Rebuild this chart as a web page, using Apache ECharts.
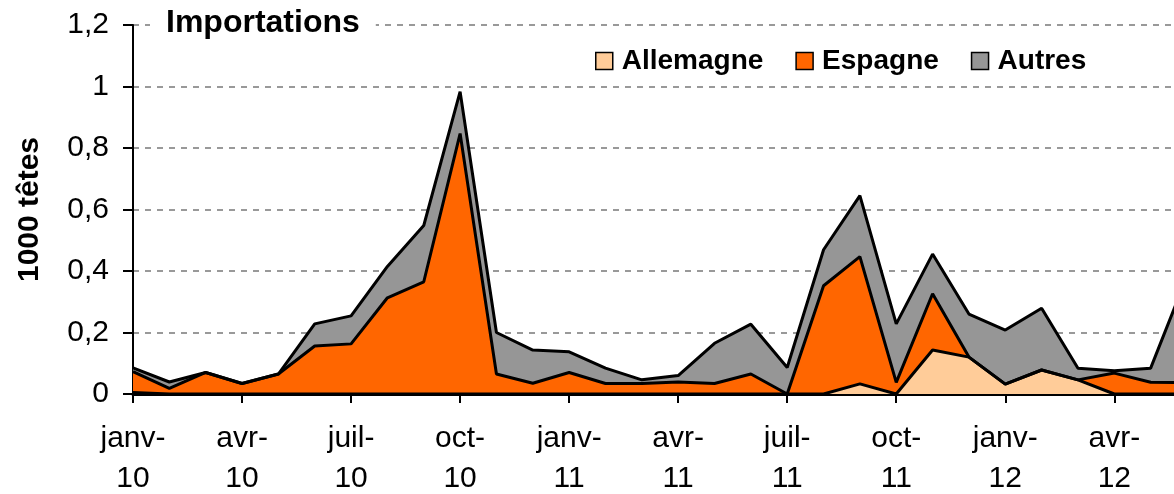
<!DOCTYPE html>
<html>
<head>
<meta charset="utf-8">
<script src="https://cdn.jsdelivr.net/npm/echarts@6/dist/echarts.min.js"></script>
<style>
  html, body { margin: 0; padding: 0; background: #fff; }
  #chart { width: 1174px; height: 494px; }
</style>
</head>
<body>
<div id="chart"></div>
<script>
// mois janv-10 .. juin-12
var months = ['janv-10', 'févr-10', 'mars-10', 'avr-10', 'mai-10', 'juin-10',
    'juil-10', 'août-10', 'sept-10', 'oct-10', 'nov-10', 'déc-10',
    'janv-11', 'févr-11', 'mars-11', 'avr-11', 'mai-11', 'juin-11',
    'juil-11', 'août-11', 'sept-11', 'oct-11', 'nov-11', 'déc-11',
    'janv-12', 'févr-12', 'mars-12', 'avr-12', 'mai-12', 'juin-12'];

var allemagne = [0.005, 0, 0, 0, 0, 0, 0, 0, 0, 0, 0, 0,
    0, 0, 0, 0, 0, 0, 0, 0, 0.033, 0, 0.143, 0.12,
    0.032, 0.078, 0.046, 0, 0, 0];
var espagne = [0.068, 0.018, 0.07, 0.034, 0.065, 0.156, 0.163, 0.313, 0.365, 0.847, 0.065, 0.035,
    0.07, 0.034, 0.034, 0.039, 0.034, 0.065, 0, 0.352, 0.414, 0.038, 0.183, 0,
    0, 0, 0, 0.068, 0.038, 0.037];
var autres = [0.012, 0.021, 0, 0, 0, 0.072, 0.091, 0.102, 0.183, 0.136, 0.135, 0.108,
    0.067, 0.05, 0.012, 0.021, 0.131, 0.162, 0.086, 0.117, 0.198, 0.19, 0.129, 0.14,
    0.176, 0.201, 0.038, 0.008, 0.046, 0.346];

var colors = {Allemagne: '#FFCC99', Espagne: '#FF6600', Autres: '#969696'};
var font = 'Arial, "Liberation Sans", sans-serif';

var chart = echarts.init(document.getElementById('chart'));

function areaSeries(name, values) {
    return {
        name: name,
        type: 'line',
        stack: 'total',
        data: values,
        symbol: 'none',
        lineStyle: {color: '#000', width: 3},
        itemStyle: {color: colors[name]},
        areaStyle: {color: colors[name], opacity: 1}
    };
}

// x labels split over two rows: "janv-" then "10"
function monthAxis(part, margin, showLine) {
    return {
        type: 'category',
        data: months,
        boundaryGap: false,
        position: 'bottom',
        axisLine: {show: showLine, lineStyle: {color: '#000', width: 3}},
        axisTick: {show: showLine, interval: 2, length: 9, lineStyle: {color: '#000', width: 2}},
        axisLabel: {
            interval: 2,
            margin: margin,
            color: '#000',
            fontFamily: font,
            fontSize: 30,
            formatter: function (v) {
                var p = v.split('-');
                return part === 0 ? p[0] + '-' : p[1];
            }
        },
        splitLine: {show: false}
    };
}

chart.setOption({
    animation: false,
    backgroundColor: '#fff',
    title: {
        text: 'Importations',
        left: 150,
        top: 5,
        padding: [2, 16],
        backgroundColor: '#fff',
        textStyle: {fontFamily: font, fontSize: 32, fontWeight: 'bold', color: '#000'}
    },
    legend: {
        left: 590,
        top: 42,
        icon: 'rect',
        itemWidth: 17,
        itemHeight: 17,
        itemGap: 32,
        textStyle: {fontFamily: font, fontSize: 28, fontWeight: 'bold', color: '#000', padding: [0, 0, 0, 4]},
        data: ['Allemagne', 'Espagne', 'Autres'].map(function (n) {
            return {name: n, itemStyle: {color: colors[n], borderColor: '#000', borderWidth: 1.5}};
        })
    },
    grid: {left: 133, right: -13, top: 25, bottom: 100, outerBoundsMode: 'none', containLabel: false},
    xAxis: [monthAxis(0, 30, true), monthAxis(1, 70, false)],
    yAxis: {
        type: 'value',
        min: 0,
        max: 1.2,
        interval: 0.2,
        name: '1000 têtes',
        nameLocation: 'middle',
        nameGap: 88,
        nameTextStyle: {fontFamily: font, fontSize: 30, fontWeight: 'bold', color: '#000'},
        axisLine: {show: true, lineStyle: {color: '#000', width: 2}},
        axisTick: {show: true, length: 10, lineStyle: {color: '#000', width: 2}},
        axisLabel: {
            margin: 24,
            fontFamily: font,
            fontSize: 30,
            color: '#000',
            formatter: function (v) {
                return String(Math.round(v * 10) / 10).replace('.', ',');
            }
        },
        splitLine: {lineStyle: {color: '#999', width: 2, type: [6, 6]}}
    },
    series: [
        areaSeries('Allemagne', allemagne),
        areaSeries('Espagne', espagne),
        areaSeries('Autres', autres)
    ]
});
</script>
</body>
</html>
